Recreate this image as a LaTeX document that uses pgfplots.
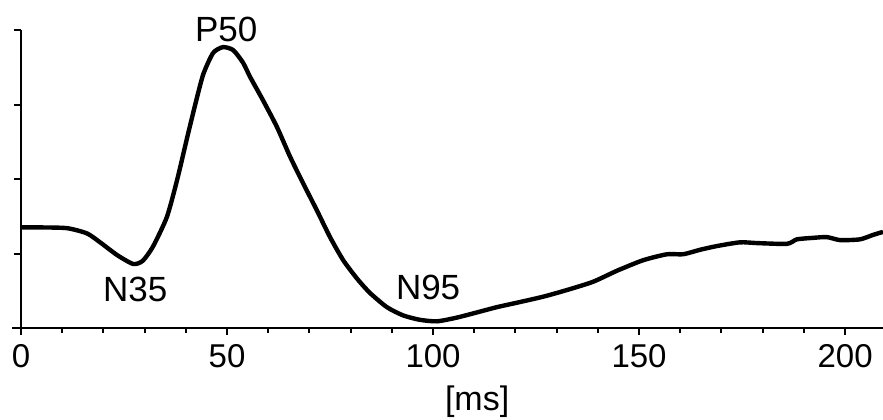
\documentclass[border=0pt]{standalone}
\usepackage{pgfplots}
\pgfplotsset{compat=1.18}
\usepackage{fontspec}
\setmainfont{Liberation Sans}
\begin{document}
\begin{tikzpicture}
\begin{axis}[
  scale only axis,
  width=431pt, height=149pt,
  xmin=0, xmax=209.2, ymin=0, ymax=4,
  axis x line=bottom, axis y line=left,
  axis line style={-, line width=1pt},
  x axis line style={shorten <=-4.5pt},
  xtick={0,50,100,150,200},
  minor xtick={10,20,30,40,60,70,80,90,110,120,130,140,160,170,180,190},
  ytick={1,2,3,4}, yticklabels={},
  tick align=outside,
  major tick length=3.5pt, minor tick length=2.5pt,
  every tick/.style={black, line width=1pt},
  /pgf/number format/assume math mode=true,
  tick label style={font=\fontsize{16.5}{18}\selectfont},
  xticklabel style={yshift=-1pt},
  clip=false,
]
\addplot[black, line width=2.2pt, smooth, tension=0.4] coordinates {
(0,1.35) (5,1.35) (11.2,1.34) (16,1.27) (19.2,1.15) (23.3,0.98) (27.2,0.86)
(29.5,0.90) (32.0,1.09) (35.4,1.49) (37.9,1.99) (40.3,2.55) (42.2,2.98)
(44.2,3.40) (46.6,3.69) (49.0,3.77) (51.5,3.73) (53.9,3.56) (55.6,3.37)
(58.7,3.06) (62.1,2.70) (65.3,2.30) (68.4,1.95) (71.8,1.58) (75.0,1.22)
(78.2,0.91) (81.6,0.66) (84.7,0.47) (88.8,0.28)
(92.7,0.17) (96.8,0.11) (101,0.09) (105.8,0.14) (110.7,0.21) (115.5,0.28)
(120.4,0.34) (126.7,0.42) (132.5,0.51) (138.8,0.62) (144.7,0.77) (151,0.91)
(156.8,0.99) (160.7,0.99) (164.8,1.05) (168.9,1.10) (174.5,1.15) (178.6,1.14)
(185.9,1.13) (188.3,1.19) (192.2,1.21) (195.6,1.22) (198.8,1.18) (203.6,1.19)
(206.8,1.25) (209.2,1.29)
};
\node[font=\fontsize{17.5}{19}\selectfont] at (axis cs:49.8,4.01) {P50};
\node[font=\fontsize{17.5}{19}\selectfont] at (axis cs:27.7,0.52) {N35};
\node[font=\fontsize{17.5}{19}\selectfont] at (axis cs:98.8,0.54) {N95};
\node[font=\fontsize{17}{19}\selectfont] at (axis cs:110.7,-0.99) {[ms]};
\coordinate (O) at (axis cs:0,0);
\end{axis}
\pgfresetboundingbox
\path ([shift={(-10.5pt,-45.5pt)}]O) rectangle ([shift={(431pt,164pt)}]O);
\end{tikzpicture}
\end{document}
